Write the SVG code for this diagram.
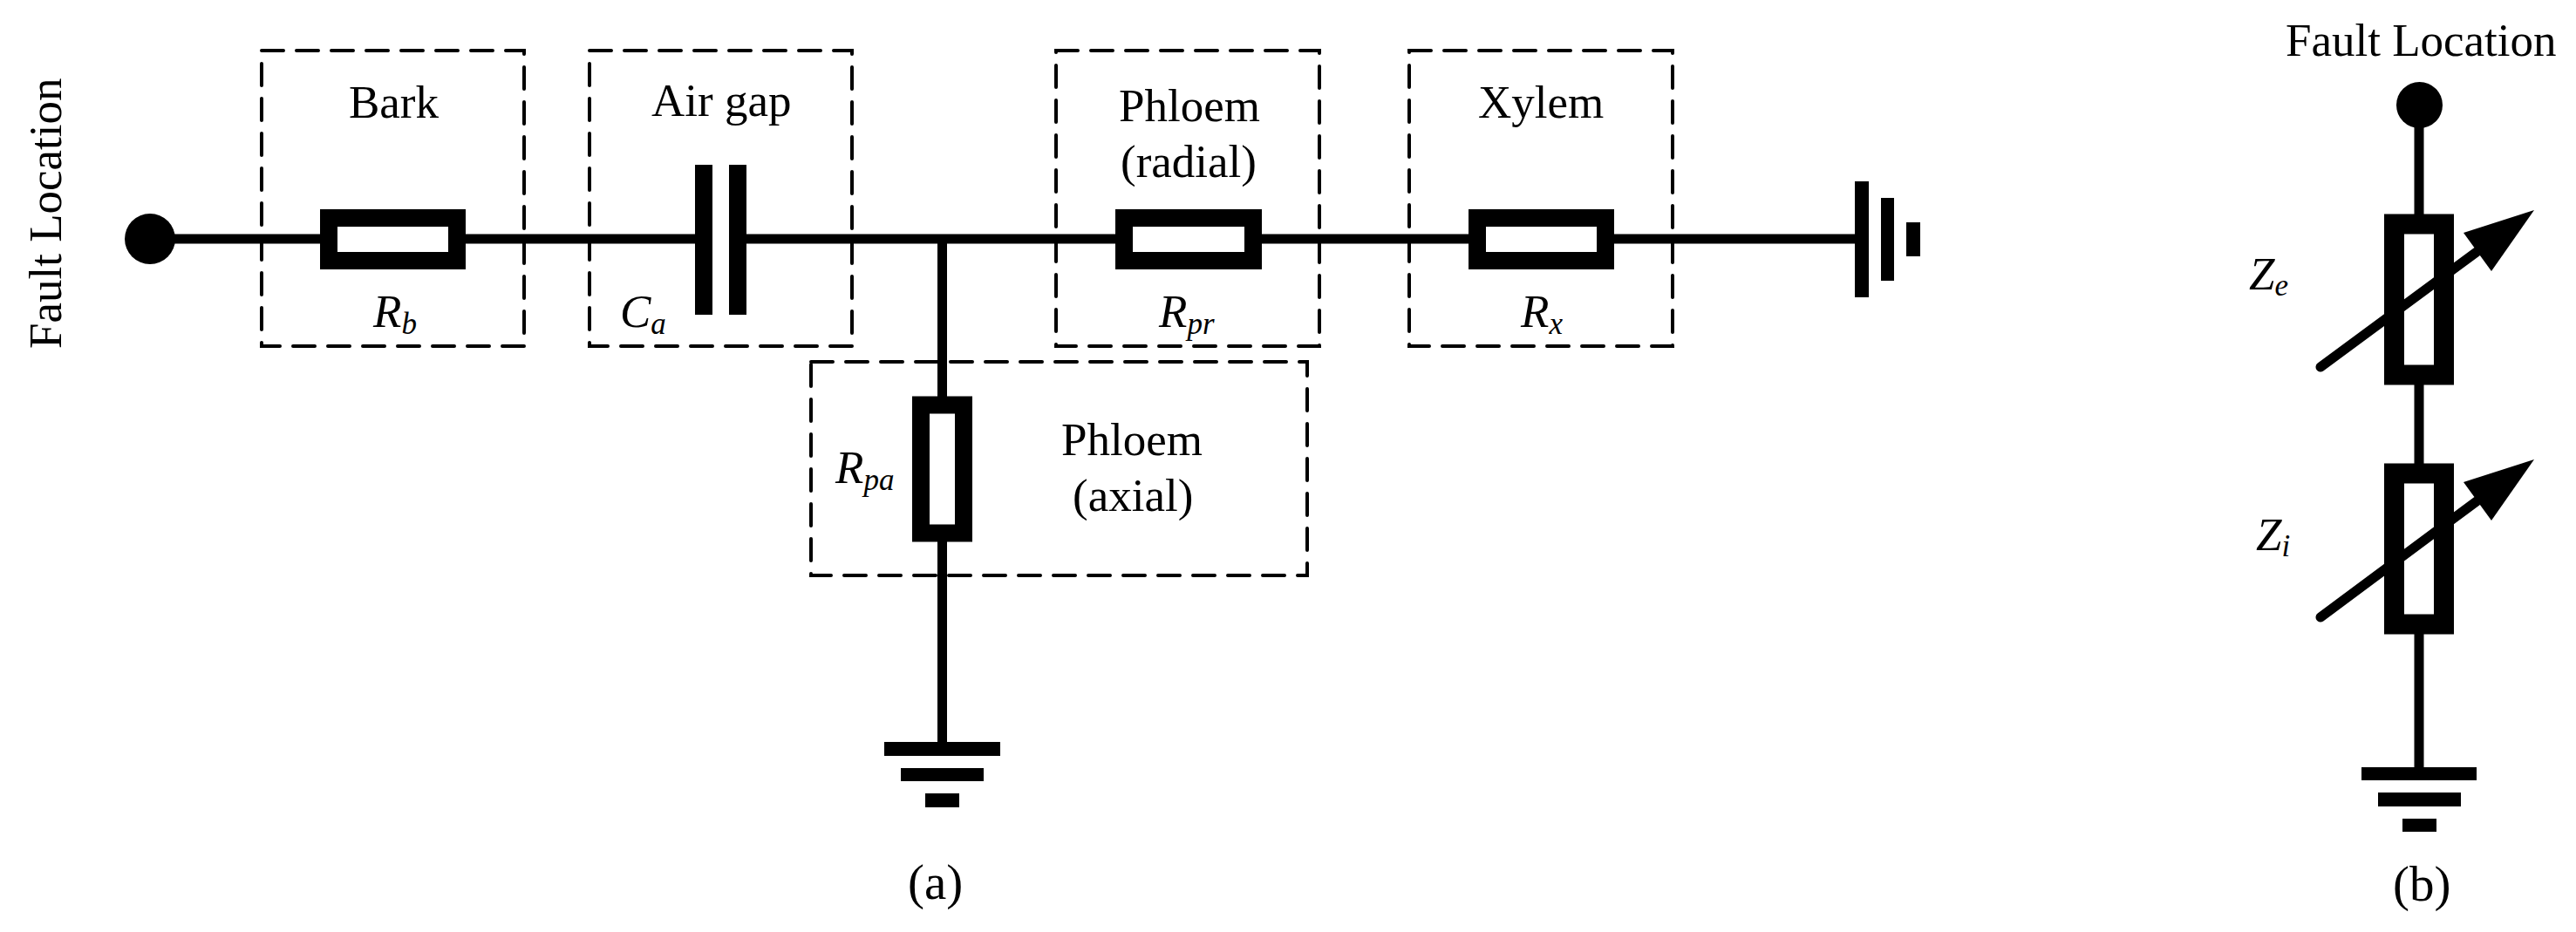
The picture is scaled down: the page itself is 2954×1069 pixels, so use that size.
<svg xmlns="http://www.w3.org/2000/svg" width="2954" height="1069" viewBox="0 0 2954 1069">
<style>
text{font-family:"Liberation Serif","Times New Roman",serif;font-size:53px;fill:#000}
.i{font-style:italic}
.s{font-size:35px}
.cap{font-size:57px}
.box{fill:none;stroke:#000;stroke-width:4;stroke-dasharray:25 15;stroke-linecap:round}
.w{fill:none;stroke:#000;stroke-width:11}
.r{fill:#fff;stroke:#000;stroke-width:20}
.rv{fill:#fff;stroke:#000;stroke-width:23}
.a{fill:none;stroke:#000;stroke-width:11;stroke-linecap:round}
rect.g,circle,polygon{fill:#000}
</style>
<rect width="2954" height="1069" fill="#fff"/>
<g id="dashed-boxes">
<path id="box-bark" class="box" d="M300 58H601V397H300Z"/>
<path id="box-airgap" class="box" d="M676 58H977V397H676Z"/>
<path id="box-phloem-radial" class="box" d="M1211 58H1513V397H1211Z"/>
<path id="box-xylem" class="box" d="M1616 58H1918V397H1616Z"/>
<path id="box-phloem-axial" class="box" d="M930 415H1499V660H930Z"/>
</g>
<g id="connectors">
<path class="w" d="M172 274H797M856 274H2127"/>
<path class="w" d="M1080.500 274V851"/>
<path class="w" d="M2774 120V880"/>
</g>
<g id="fault-a">
<circle cx="172" cy="274" r="29"/>
<text transform="translate(70 400) rotate(-90)">Fault Location</text>
</g>
<g id="bark">
<rect class="r" x="377" y="250" width="147" height="49"/>
<text x="400" y="135">Bark</text>
<text class="i" x="428" y="375">R<tspan class="s" dy="8">b</tspan></text>
</g>
<g id="airgap">
<rect class="g" x="797" y="189" width="20" height="172"/>
<rect class="g" x="836" y="189" width="20" height="172"/>
<text x="747" y="133">Air gap</text>
<text class="i" x="711" y="375">C<tspan class="s" dy="8">a</tspan></text>
</g>
<g id="phloem-radial">
<rect class="r" x="1289" y="250" width="148" height="49"/>
<text x="1283" y="139">Phloem</text>
<text x="1285" y="203">(radial)</text>
<text class="i" x="1329" y="375">R<tspan class="s" dy="8">pr</tspan></text>
</g>
<g id="xylem">
<rect class="r" x="1694" y="250" width="147" height="49"/>
<text x="1695" y="135">Xylem</text>
<text class="i" x="1744" y="375">R<tspan class="s" dy="8">x</tspan></text>
</g>
<g id="ground-right">
<rect class="g" x="2127" y="208" width="16" height="133"/>
<rect class="g" x="2157" y="227" width="15" height="95"/>
<rect class="g" x="2186" y="255" width="16" height="39"/>
</g>
<g id="phloem-axial">
<rect class="r" x="1056" y="464.500" width="49" height="147"/>
<text x="1217" y="522">Phloem</text>
<text x="1230" y="586">(axial)</text>
<text class="i" x="958" y="554">R<tspan class="s" dy="8">pa</tspan></text>
</g>
<g id="ground-a">
<rect class="g" x="1014" y="851" width="133" height="16"/>
<rect class="g" x="1033" y="881" width="95" height="15"/>
<rect class="g" x="1061" y="910" width="39" height="16"/>
</g>
<text id="label-a" class="cap" x="1041" y="1031">(a)</text>
<g id="fault-b">
<circle cx="2774.500" cy="120.500" r="26.500"/>
<text x="2621" y="63.500">Fault Location</text>
</g>
<g id="ze">
<rect class="rv" x="2745.500" y="257" width="57" height="173"/>
<path class="a" d="M2661 421L2840 289"/>
<polygon points="2906,241 2825,267 2857,311"/>
<text class="i" x="2579" y="332">Z<tspan class="s" dy="7">e</tspan></text>
</g>
<g id="zi">
<rect class="rv" x="2745.500" y="543" width="57" height="173"/>
<path class="a" d="M2661 708L2840 575"/>
<polygon points="2906,527 2825,553 2857,597"/>
<text class="i" x="2587" y="631">Z<tspan class="s" dy="7">i</tspan></text>
</g>
<g id="ground-b">
<rect class="g" x="2708" y="880" width="132" height="15"/>
<rect class="g" x="2727" y="909" width="95" height="16"/>
<rect class="g" x="2755" y="939" width="39" height="15"/>
</g>
<text id="label-b" class="cap" x="2744" y="1033">(b)</text>
</svg>
